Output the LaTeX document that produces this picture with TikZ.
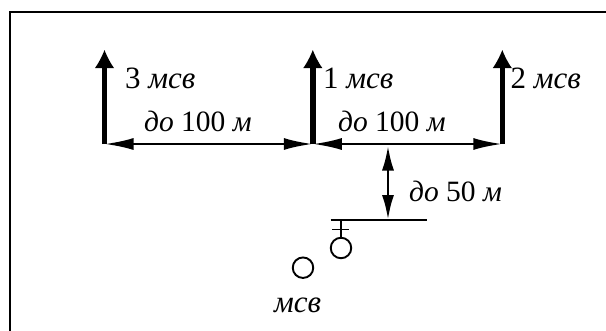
\documentclass[tikz,border=0pt]{standalone}
\usepackage{fontspec}
\setmainfont{Liberation Serif}
\usetikzlibrary{arrows.meta}
\tikzset{
 x=1pt,y=-1pt,
 mast/.style={line width=5.6pt,-{Latex[length=18pt,width=19pt,line width=0pt]}},
 dim/.style={line width=2.6pt,{Latex[length=29pt,width=12pt]}-{Latex[length=29pt,width=12pt]}},
 dimv/.style={line width=2.8pt,{Latex[length=25pt,width=12pt]}-{Latex[length=25pt,width=12pt]}},
 lbl/.style={inner sep=0pt,font=\fontsize{31}{34}\selectfont,anchor=base west},
 lblb/.style={inner sep=0pt,font=\fontsize{29.5}{34}\selectfont,anchor=base west},
 rail/.style={line width=2pt},
}
\begin{document}
\begin{tikzpicture}
\useasboundingbox (0,0) rectangle (606,330);
\fill[white] (0,0) rectangle (606,330);
\draw[line width=2pt] (9.5,331) -- (9.5,11.5) -- (607,11.5);
\coordinate (b1) at (104.5,144);
\coordinate (b2) at (312.8,144);
\coordinate (b3) at (502.3,144);
\coordinate (t1) at (104.5,50);
\coordinate (t2) at (312.8,50);
\coordinate (t3) at (502.3,50);
\coordinate (m) at (388,145.5);
\coordinate (n) at (388,220);
\coordinate (la) at (330.7,220);
\coordinate (lb) at (426.7,220);
\coordinate (ga) at (332,229.3);
\coordinate (gb) at (349,229.3);
\coordinate (gt) at (341,220);
\draw[mast] (b1) -- (t1);
\draw[mast] (b2) -- (t2);
\draw[mast] (b3) -- (t3);
\draw[dim] (b1) -- (b2);
\draw[dim] (b2) -- (b3);
\draw[dimv] (m) -- (n);
\draw[rail] (la) -- (lb);
\node[circle,draw,line width=1.9pt,minimum size=20.5pt,inner sep=0pt] (c1) at (341,248) {};
\node[circle,draw,line width=1.9pt,minimum size=20.5pt,inner sep=0pt] (c2) at (303,267.7) {};
\draw[line width=1.5pt] (gt) -- (c1);
\draw[line width=1.5pt] (ga) -- (gb);
\node[lbl] (l1) at (125,88) {3 \textit{мсв}};
\node[lbl] (l2) at (323,88) {1 \textit{мсв}};
\node[lbl] (l3) at (510.5,88) {2 \textit{мсв}};
\node[lblb] (l4) at (144,131) {\textit{до} 100 \textit{м}};
\node[lblb] (l5) at (338,131) {\textit{до} 100 \textit{м}};
\node[lblb] (l6) at (409,201.7) {\textit{до} 50 \textit{м}};
\node[lbl] (l7) at (274,312) {\textit{мсв}};
\end{tikzpicture}
\end{document}
